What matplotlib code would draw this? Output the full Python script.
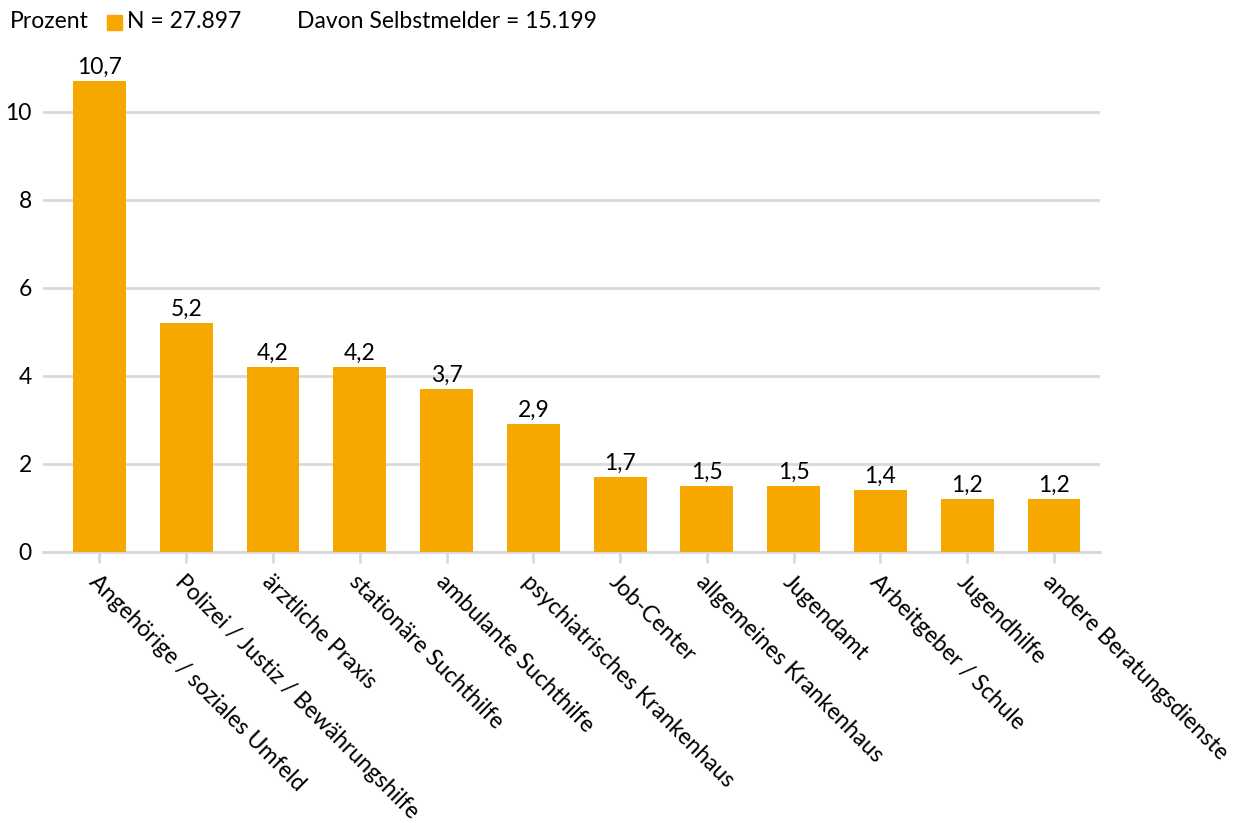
import matplotlib.pyplot as plt
from matplotlib.patches import Rectangle

plt.rcParams['font.family'] = ['Lato', 'DejaVu Sans']

categories = ['Angehörige / soziales Umfeld', 'Polizei / Justiz / Bewährungshilfe',
              'ärztliche Praxis', 'stationäre Suchthilfe', 'ambulante Suchthilfe',
              'psychiatrisches Krankenhaus', 'Job-Center', 'allgemeines Krankenhaus',
              'Jugendamt', 'Arbeitgeber / Schule', 'Jugendhilfe', 'andere Beratungsdienste']
values = [10.7, 5.2, 4.2, 4.2, 3.7, 2.9, 1.7, 1.5, 1.5, 1.4, 1.2, 1.2]
yticks = [0, 2, 4, 6, 8, 10]

bar_color = '#F7A800'
grid_color = '#D9D9D9'
fs = 16.5

fig = plt.figure(figsize=(12.5, 8.23), dpi=100)
ax = fig.add_axes([0.0344, 0.3293, 0.8456, 0.5774])

x = range(len(categories))
ax.bar(x, values, width=0.61, color=bar_color, zorder=3)
for xi, v in zip(x, values):
    ax.text(xi, v + 0.08, f'{v:.1f}'.replace('.', ','), ha='center', va='bottom',
            fontsize=fs, color='#000000')

ax.set_xlim(-0.65, 11.53)
ax.set_ylim(0, 10.8)
ax.set_yticks(yticks)
ax.set_yticklabels([str(t) for t in yticks], fontsize=fs)
ax.yaxis.grid(True, color=grid_color, linewidth=2, zorder=0)
ax.set_axisbelow(True)
for s in ['top', 'right', 'left']:
    ax.spines[s].set_visible(False)
ax.spines['bottom'].set_color(grid_color)
ax.spines['bottom'].set_linewidth(2)
ax.tick_params(axis='y', length=0, pad=8)
ax.tick_params(axis='x', length=8, width=2, color=grid_color, direction='out', pad=6)
ax.set_xticks(list(x))
ax.set_xticklabels(categories, rotation=-45, ha='left', va='top',
                   rotation_mode='anchor', fontsize=fs)

# header / legend line
fig.text(10 / 1250, 1 - 22 / 823, 'Prozent', ha='left', va='center', fontsize=fs)
fig.patches.append(Rectangle((107 / 1250, 1 - 30 / 823), 15 / 1250, 15 / 823,
                             transform=fig.transFigure, color=bar_color))
fig.text(127 / 1250, 1 - 22 / 823, 'N = 27.897', ha='left', va='center', fontsize=fs)
fig.text(297 / 1250, 1 - 22 / 823, 'Davon Selbstmelder = 15.199', ha='left',
         va='center', fontsize=fs)

fig.savefig('out.png', dpi=100)
